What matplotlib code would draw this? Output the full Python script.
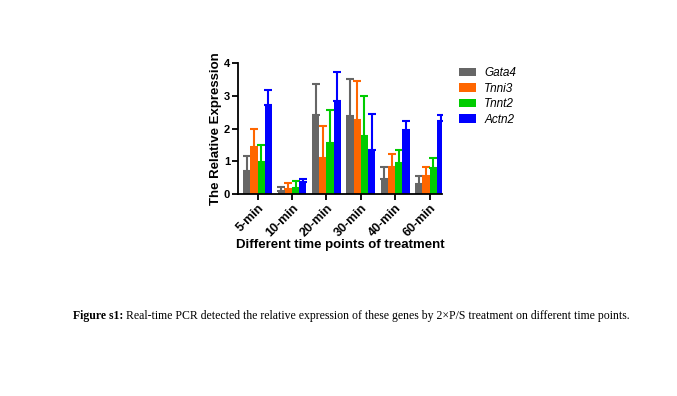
import matplotlib
matplotlib.use("Agg")
import matplotlib.pyplot as plt
import numpy as np

categories = ["5-min", "10-min", "20-min", "30-min", "40-min", "60-min"]
genes = ["Gata4", "Tnni3", "Tnnt2", "Actn2"]
gata4 = [0.70, 0.10, 2.41, 2.39, 0.47, 0.32]
gata4_err = [0.46, 0.13, 0.94, 1.13, 0.34, 0.24]
tnni3 = [1.45, 0.14, 1.11, 2.26, 0.84, 0.55]
tnni3_err = [0.54, 0.20, 0.98, 1.19, 0.37, 0.29]
tnnt2 = [0.98, 0.19, 1.56, 1.78, 0.94, 0.80]
tnnt2_err = [0.53, 0.21, 0.99, 1.20, 0.39, 0.29]
actn2 = [2.73, 0.36, 2.84, 1.35, 1.96, 2.24]
actn2_err = [0.44, 0.10, 0.88, 1.08, 0.28, 0.18]
colors = ["#666666", "#FF6600", "#00CC00", "#0000FF"]

values = [gata4, tnni3, tnnt2, actn2]
errors = [gata4_err, tnni3_err, tnnt2_err, actn2_err]

fig = plt.figure(figsize=(6.77, 3.96), dpi=100)
ax = fig.add_axes([0.352, 0.510, 0.301, 0.331])

x = np.arange(len(categories))
w = 0.21
for i, (vals, errs, c, g) in enumerate(zip(values, errors, colors, genes)):
    pos = x + (i - 1.5) * w
    ax.bar(pos, vals, width=w, color=c, label=g, zorder=2)
    ax.errorbar(pos, vals, yerr=[np.zeros(len(errs)), errs], fmt="none",
                ecolor=c, elinewidth=1.5, capsize=3, capthick=1.5, zorder=1)

ax.set_xlim(-0.56, 5.36)
ax.set_ylim(0, 4)
ax.set_yticks([0, 1, 2, 3, 4])
ax.set_xticks(x)
ax.set_xticklabels(categories, rotation=45, ha="right", rotation_mode="anchor",
                   fontsize=9, fontweight="bold", family="Liberation Sans")
for lab in ax.get_yticklabels():
    lab.set_fontsize(8)
    lab.set_fontweight("bold")
    lab.set_family("Liberation Sans")
for s in ["top", "right"]:
    ax.spines[s].set_visible(False)
for s in ["left", "bottom"]:
    ax.spines[s].set_linewidth(1.3)
ax.tick_params(axis="both", width=1.3, length=4, pad=2)
ax.set_ylabel("The Relative Expression", fontsize=9.5, fontweight="bold",
              family="Liberation Sans", labelpad=1)
ax.set_xlabel("Different time points of treatment", fontsize=9.5, fontweight="bold",
              family="Liberation Sans", labelpad=0)

leg = ax.legend(loc="upper left", bbox_to_anchor=(1.03, 1.05), frameon=False,
                prop={"family": "Liberation Sans", "style": "italic", "size": 8.5},
                handlelength=1.45, handleheight=0.75, labelspacing=0.3, handletextpad=0.7)

t1 = fig.text(73 / 677, 1 - 316 / 396, "Figure s1:", fontsize=8.45, fontweight="bold",
              family="Liberation Serif", va="center", ha="left")
fig.canvas.draw()
ax.annotate(" Real-time PCR detected the relative expression of these genes by 2\u00d7P/S treatment on different time points.",
            xy=(1, 0.5), xycoords=t1, va="center", ha="left", fontsize=8.45,
            family="Liberation Serif", annotation_clip=False)

fig.savefig("out.png", dpi=100)
